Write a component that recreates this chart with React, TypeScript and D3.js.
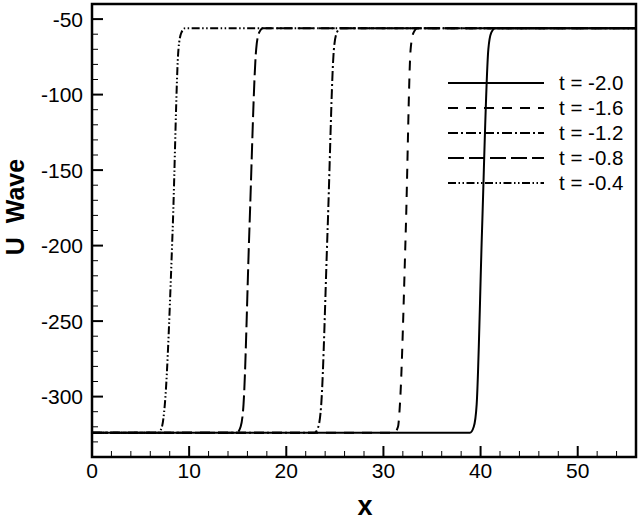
import React from "react";
import * as d3 from "d3";

const seriesLabels = ["t = -2.0", "t = -1.6", "t = -1.2", "t = -0.8", "t = -0.4"];

const xT20 = [0, 38.9, 39.3, 39.6, 40.15, 40.8, 41.1, 41.5, 56];
const xT16 = [0, 31.1, 31.5, 31.7, 32.3, 32.8, 33.1, 33.5, 56];
const xT12 = [0, 22.9, 23.3, 23.6, 24.25, 24.9, 25.2, 25.6, 56];
const xT08 = [0, 14.9, 15.3, 15.6, 16.2, 16.9, 17.2, 17.6, 56];
const xT04 = [0, 6.8, 7.2, 7.5, 8.3, 8.9, 9.2, 9.6, 56];
const uWave = [-324, -324, -320, -305, -190, -70, -59, -56, -56];

const xTicks = [0, 10, 20, 30, 40, 50];
const yTicks = [-50, -100, -150, -200, -250, -300];

const dashes = ["", "10,8", "10,3,2,3", "16,5", "8,2.5,1.5,2.5,1.5,2.5"];

export default function App() {
  const W = 640, H = 522;
  const L = 92, R = 636, T = 4, B = 457;
  const x = d3.scaleLinear().domain([0, 56]).range([L, R]);
  const y = d3.scaleLinear().domain([-340, -40]).range([B, T]);
  const line = d3
    .line<[number, number]>()
    .x((d) => x(d[0]))
    .y((d) => y(d[1]))
    .curve(d3.curveMonotoneX);
  const allX = [xT20, xT16, xT12, xT08, xT04];
  const font = "'Liberation Sans', Arial, sans-serif";
  const minorX = d3.range(0, 57, 2).filter((v) => v % 10 !== 0);
  const minorY = d3.range(-340, -39, 10).filter((v) => v % 50 !== 0);

  return (
    <svg width={W} height={H} style={{ position: "absolute", left: 0, top: 0, background: "#fff" }} fontFamily={font}>
      <defs>
        <clipPath id="plot">
          <rect x={L} y={T} width={R - L} height={B - T} />
        </clipPath>
      </defs>
      <g clipPath="url(#plot)">
        {allX.map((xs, i) => (
          <path
            key={i}
            d={line(xs.map((v, j) => [v, uWave[j]] as [number, number])) || ""}
            fill="none"
            stroke="#000"
            strokeWidth={2}
            strokeDasharray={dashes[i] || undefined}
          />
        ))}
      </g>
      {xTicks.map((v) => (
        <g key={"xt" + v}>
          <line x1={x(v)} x2={x(v)} y1={B} y2={B - 11} stroke="#000" strokeWidth={2} />
          <text x={x(v)} y={478} fontSize={21} textAnchor="middle">{v}</text>
        </g>
      ))}
      {minorX.map((v) => (
        <line key={"xm" + v} x1={x(v)} x2={x(v)} y1={B} y2={B - 6} stroke="#000" strokeWidth={1} />
      ))}
      {yTicks.map((v) => (
        <g key={"yt" + v}>
          <line x1={L} x2={L + 11} y1={y(v)} y2={y(v)} stroke="#000" strokeWidth={2} />
          <text x={83} y={y(v) + 7.5} fontSize={21} textAnchor="end">{v}</text>
        </g>
      ))}
      {minorY.map((v) => (
        <line key={"ym" + v} x1={L} x2={L + 6} y1={y(v)} y2={y(v)} stroke="#000" strokeWidth={1} />
      ))}
      <rect x={L} y={T} width={R - L} height={B - T} fill="none" stroke="#000" strokeWidth={2.5} />
      {seriesLabels.map((s, i) => {
        const yy = 83 + i * 25;
        return (
          <g key={s}>
            <line x1={448} x2={544} y1={yy} y2={yy} stroke="#000" strokeWidth={2} strokeDasharray={dashes[i] || undefined} />
            <text x={559} y={yy + 7} fontSize={20.5}>{s}</text>
          </g>
        );
      })}
      <text x={365} y={515} fontSize={27} fontWeight="bold" textAnchor="middle">x</text>
      <text
        transform="translate(24,207) rotate(-90)"
        fontSize={25}
        fontWeight="bold"
        textAnchor="middle"
        style={{ whiteSpace: "pre" }}
      >
        {"U  Wave"}
      </text>
    </svg>
  );
}
